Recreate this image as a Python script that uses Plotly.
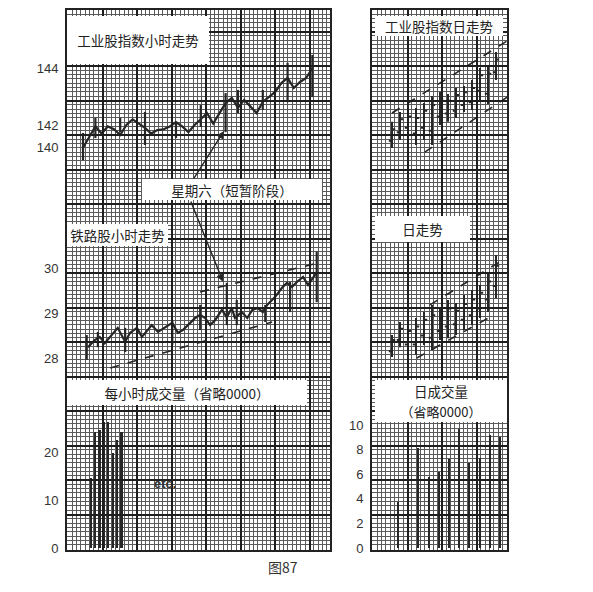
import plotly.graph_objects as go

# page body has an 8px margin, so the figure is drawn 8px smaller and offset
OFF = 8
W, H = 593 - OFF, 592 - OFF

# ---- hourly industrial average (one close per hour) ----
ind_hours = list(range(38))
ind_close = [141.2, 141.6, 141.95, 141.7, 141.95, 141.85, 141.65, 142.0, 142.2, 142.05,
             141.9, 141.7, 141.82, 141.85, 141.95, 142.1, 141.95, 141.75, 142.0, 142.2,
             142.42, 142.05, 142.42, 142.77, 142.95, 142.6, 142.88, 142.63, 142.42, 142.81,
             142.98, 143.16, 143.47, 143.65, 143.3, 143.51, 143.65, 144.0]
ind_rng_hours = [0, 2, 6, 10, 15, 19, 23, 25, 29, 33, 37]
ind_rng_high = [141.72, 142.25, 142.25, 142.46, 142.1, 142.7, 143.12, 143.23, 143.23, 144.18, 144.46]
ind_rng_low = [140.77, 141.54, 141.75, 141.3, 141.54, 141.93, 141.75, 142.42, 142.53, 142.8, 142.98]

# ---- hourly rail average ----
rail_hours = [0.8, 1.9, 2.7, 3.5, 5.6, 6.8, 7.6, 8.7, 9.5, 11.1, 12.1, 13.2, 14.4, 15.3,
              16.1, 17.3, 18.1, 18.9, 19.7, 20.5, 21.3, 22.4, 23.2, 24.0, 24.5, 25.6, 26.5,
              27.3, 28.2, 29.0, 29.7, 30.5, 31.0, 32.1, 32.9, 33.7, 34.5, 35.5, 36.3, 37.1, 37.7]
rail_close = [28.24, 28.4, 28.47, 28.33, 28.67, 28.36, 28.56, 28.67, 28.47, 28.73, 28.58,
              28.67, 28.78, 28.56, 28.62, 28.78, 28.89, 28.96, 28.89, 28.73, 28.84, 29.07,
              28.91, 29.11, 28.89, 29.02, 28.89, 29.07, 29.11, 29.02, 29.18, 29.29, 29.36,
              29.56, 29.67, 29.58, 29.69, 29.8, 29.62, 29.78, 29.91]
rail_rng_hours = [0.6, 2.4, 6.8, 14.4, 18.9, 23.2, 24.8, 29.4, 33.4, 37.7]
rail_rng_high = [28.51, 28.58, 28.67, 28.84, 29.18, 29.67, 29.29, 29.18, 29.69, 30.36]
rail_rng_low = [27.96, 28.24, 28.13, 28.29, 28.62, 28.73, 28.73, 28.8, 29.02, 29.24]
rail_upper_hours, rail_upper_vals = [18.9, 38.5], [29.47, 30.13]
rail_lower_hours, rail_lower_vals = [4.4, 30.5], [27.78, 28.8]

# ---- hourly volume (0000 omitted) ----
hour_vol = [14.6, 24.2, 24.6, 26.3, 26.3, 19.8, 22.5, 24.2]

# ---- daily industrial ----
days = list(range(14))
ind_d_open = [141.45, 141.75, 141.9, 141.7, 141.9, 141.8, 142.3, 142.4, 142.5, 142.7, 142.8, 143.2, 143.1, 143.85]
ind_d_high = [142.11, 142.46, 142.53, 142.6, 142.77, 143.02, 143.16, 143.09, 143.3, 143.37, 143.58, 144.0, 144.07, 144.56]
ind_d_low = [141.19, 141.47, 141.65, 141.3, 141.47, 141.3, 142.0, 142.11, 142.25, 142.46, 142.53, 142.88, 142.74, 143.58]
ind_d_close = [141.85, 142.2, 142.3, 142.25, 142.5, 142.7, 142.9, 142.85, 143.05, 143.15, 143.3, 143.75, 143.8, 144.3]
ind_d_upper_days, ind_d_upper_vals = [0, 14.4], [142.42, 144.95]
ind_d_lower_days, ind_d_lower_vals = [4.1, 14.4], [141.05, 142.98]

# ---- daily rail ----
rail_d_open = [28.15, 28.4, 28.3, 28.3, 28.5, 28.45, 28.6, 28.7, 28.75, 28.85, 28.95, 29.1, 29.3, 29.6]
rail_d_high = [28.51, 28.8, 28.8, 28.89, 29.02, 29.18, 29.11, 29.29, 29.22, 29.4, 29.51, 29.62, 29.91, 30.29]
rail_d_low = [28.02, 28.24, 28.13, 28.07, 28.29, 28.18, 28.4, 28.44, 28.51, 28.62, 28.73, 28.89, 29.02, 29.33]
rail_d_close = [28.4, 28.65, 28.6, 28.7, 28.85, 28.95, 28.95, 29.1, 29.05, 29.2, 29.3, 29.45, 29.7, 30.05]
rail_d_upper_days, rail_d_upper_vals = [4.75, 14.4], [29.18, 30.24]
rail_d_lower_days, rail_d_lower_vals = [3.1, 12.25], [28.0, 28.91]

# ---- daily volume (0000 omitted) ----
day_vol = [3.7, 8.0, 8.1, 5.8, 6.2, 7.2, 9.7, 6.9, 7.3, 9.2, 9.0]

INK = "#262626"
CJK = "Noto Sans CJK SC"
NUM = "Liberation Sans"


def fx(p):
    return (p - OFF) / W


def fy(p):
    return 1 - (p - OFF) / H


def segs(xs, hi, lo):
    X, Y = [], []
    for x, h, l in zip(xs, hi, lo):
        X += [x, x, None]
        Y += [l, h, None]
    return X, Y


fig = go.Figure()

# empty traces so the graph-paper backgrounds exist (fine grid, then coarse grid)
for xa, ya in [("x", "y"), ("x2", "y2"), ("x7", "y9"), ("x8", "y10")]:
    fig.add_trace(go.Scatter(x=[], y=[], xaxis=xa, yaxis=ya, showlegend=False))

line = dict(color=INK, width=2.2)
dash = dict(color=INK, width=1.6, dash="dash")

# hourly industrial
fig.add_trace(go.Scatter(x=ind_hours, y=ind_close, mode="lines", line=line,
                         xaxis="x3", yaxis="y3", showlegend=False))
sx, sy = segs(ind_rng_hours, ind_rng_high, ind_rng_low)
fig.add_trace(go.Scatter(x=sx, y=sy, mode="lines", line=line,
                         xaxis="x3", yaxis="y3", showlegend=False))

# hourly rail
fig.add_trace(go.Scatter(x=rail_hours, y=rail_close, mode="lines", line=line,
                         xaxis="x3", yaxis="y4", showlegend=False))
sx, sy = segs(rail_rng_hours, rail_rng_high, rail_rng_low)
fig.add_trace(go.Scatter(x=sx, y=sy, mode="lines", line=line,
                         xaxis="x3", yaxis="y4", showlegend=False))
fig.add_trace(go.Scatter(x=rail_upper_hours, y=rail_upper_vals, mode="lines", line=dash,
                         xaxis="x3", yaxis="y4", showlegend=False))
fig.add_trace(go.Scatter(x=rail_lower_hours, y=rail_lower_vals, mode="lines", line=dash,
                         xaxis="x3", yaxis="y4", showlegend=False))

# hourly volume
fig.add_trace(go.Bar(x=list(range(len(hour_vol))), y=hour_vol, width=0.4,
                     marker=dict(color=INK, line=dict(width=0)),
                     xaxis="x4", yaxis="y5", showlegend=False))

# daily industrial
ohlc_style = dict(increasing=dict(line=dict(color=INK, width=2)),
                  decreasing=dict(line=dict(color=INK, width=2)),
                  tickwidth=0.4, showlegend=False)
fig.add_trace(go.Ohlc(x=days, open=ind_d_open, high=ind_d_high, low=ind_d_low,
                      close=ind_d_close, xaxis="x5", yaxis="y6", **ohlc_style))
fig.add_trace(go.Scatter(x=ind_d_upper_days, y=ind_d_upper_vals, mode="lines", line=dash,
                         xaxis="x5", yaxis="y6", showlegend=False))
fig.add_trace(go.Scatter(x=ind_d_lower_days, y=ind_d_lower_vals, mode="lines", line=dash,
                         xaxis="x5", yaxis="y6", showlegend=False))

# daily rail
fig.add_trace(go.Ohlc(x=days, open=rail_d_open, high=rail_d_high, low=rail_d_low,
                      close=rail_d_close, xaxis="x5", yaxis="y7", **ohlc_style))
fig.add_trace(go.Scatter(x=rail_d_upper_days, y=rail_d_upper_vals, mode="lines", line=dash,
                         xaxis="x5", yaxis="y7", showlegend=False))
fig.add_trace(go.Scatter(x=rail_d_lower_days, y=rail_d_lower_vals, mode="lines", line=dash,
                         xaxis="x5", yaxis="y7", showlegend=False))

# daily volume
fig.add_trace(go.Bar(x=list(range(len(day_vol))), y=day_vol, width=0.2,
                     marker=dict(color=INK, line=dict(width=0)),
                     xaxis="x6", yaxis="y8", showlegend=False))

# ---- axes ----
LEFT = [fx(67), fx(330)]
RIGHT = [fx(372), fx(507)]
FULLY = [fy(550), fy(10)]

fine = dict(showgrid=True, gridcolor="#5a5a5a", gridwidth=0.8, dtick=34.5 / 8, tick0=1,
            showticklabels=False, ticks="", zeroline=False, showline=True, mirror=True,
            linecolor="#222", linewidth=1.5, fixedrange=True)
coarse = dict(showgrid=True, gridcolor="#1e1e1e", gridwidth=1.5, dtick=34.5, tick0=1,
              showticklabels=False, ticks="", zeroline=False, showline=False, fixedrange=True)
hidden = dict(visible=False, showgrid=False, zeroline=False, fixedrange=True)
tickfont = dict(family=NUM, size=13, color="#333")
yval = dict(showgrid=False, zeroline=False, showline=False, ticks="outside", ticklen=5,
            tickcolor="rgba(0,0,0,0)", tickfont=tickfont, fixedrange=True)

fig.update_layout(
    xaxis=dict(domain=LEFT, range=[0, 263], anchor="y", **fine),
    yaxis=dict(domain=FULLY, range=[0, 540], anchor="x", **fine),
    xaxis2=dict(domain=RIGHT, range=[0, 135], anchor="y2", **fine),
    yaxis2=dict(domain=FULLY, range=[0, 540], anchor="x2", **fine),
    xaxis7=dict(domain=LEFT, range=[0, 263], anchor="y9", **coarse),
    yaxis9=dict(domain=FULLY, range=[0, 540], anchor="x7", **coarse),
    xaxis8=dict(domain=RIGHT, range=[0, 135], anchor="y10", **coarse),
    yaxis10=dict(domain=FULLY, range=[0, 540], anchor="x8", **coarse),
    xaxis3=dict(domain=LEFT, range=[-2.58, 39.84], anchor="y3", **hidden),
    xaxis4=dict(domain=LEFT, range=[-5.45, 54.3], anchor="y5", **hidden),
    xaxis5=dict(domain=RIGHT, range=[-2.5, 14.375], anchor="y6",
                rangeslider=dict(visible=False), **hidden),
    xaxis6=dict(domain=RIGHT, range=[-2.55, 10.69], anchor="y8", **hidden),
    yaxis3=dict(domain=[fy(210), fy(10)], range=[139.018, 146.035], anchor="x3",
                tickvals=[141.23, 142, 144], ticktext=["140", "142", "144"], **yval),
    yaxis4=dict(domain=[fy(380), fy(210)], range=[27.511, 31.289], anchor="x3",
                tickvals=[28, 29, 30], **yval),
    yaxis5=dict(domain=[fy(550), fy(380)], range=[-0.417, 35.0], anchor="x4",
                tickvals=[0, 10, 20], **yval),
    yaxis6=dict(domain=[fy(210), fy(10)], range=[139.018, 146.035], anchor="x5", **hidden),
    yaxis7=dict(domain=[fy(380), fy(210)], range=[27.511, 31.289], anchor="x5", **hidden),
    yaxis8=dict(domain=[fy(550), fy(380)], range=[-0.163, 13.66], anchor="x6",
                tickvals=[0, 2, 4, 6, 8, 10], **yval),
)

# ---- arrows from the Saturday note ----
arrow = dict(showarrow=True, arrowhead=2, arrowsize=1.1, arrowwidth=1.4, arrowcolor=INK, text="")
fig.add_annotation(x=22.74, y=141.79, xref="x3", yref="y3", ax=17.7, ay=140.07,
                   axref="x3", ayref="y3", **arrow)
fig.add_annotation(x=22.6, y=29.69, xref="x3", yref="y4", ax=17.3, ay=31.51,
                   axref="x3", ayref="y4", **arrow)

# ---- white label boxes ----
def box(text, x0, x1, y0, y1, size=13.5):
    fig.add_annotation(text=text, x=fx((x0 + x1) / 2), y=fy((y0 + y1) / 2),
                       xref="paper", yref="paper", xanchor="center", yanchor="middle",
                       width=x1 - x0, height=y1 - y0, bgcolor="white", borderpad=0,
                       borderwidth=0, showarrow=False, align="center", valign="middle",
                       font=dict(family=CJK, size=size, color="#222"))


box("工业股指数小时走势", 67, 209, 16, 64)
box("星期六（短暂阶段）", 142, 322, 179, 200)
box("铁路股小时走势", 67, 168, 224, 246)
box("每小时成交量（省略0000）", 67, 307, 380, 405)
box("工业股指数日走势", 375, 503, 16, 36)
box("日走势", 375, 470, 216, 242)
box("日成交量", 375, 507, 380, 401)
box("（省略0000）", 375, 507, 401, 422, size=13)

fig.add_annotation(text="<b>etc.</b>", x=fx(152), y=fy(493), xref="paper", yref="paper",
                   showarrow=False, font=dict(family=NUM, size=13, color="#333"))
fig.add_annotation(text="图87", x=fx(283), y=fy(579), xref="paper", yref="paper",
                   showarrow=False, font=dict(family=CJK, size=14, color="#333"))

fig.update_layout(
    template="none",
    width=W, height=H,
    margin=dict(l=0, r=0, t=0, b=0),
    paper_bgcolor="white",
    plot_bgcolor="rgba(0,0,0,0)",
    showlegend=False,
    bargap=0,
    font=dict(family=NUM, color="#333"),
)

fig.write_html("out.html")
